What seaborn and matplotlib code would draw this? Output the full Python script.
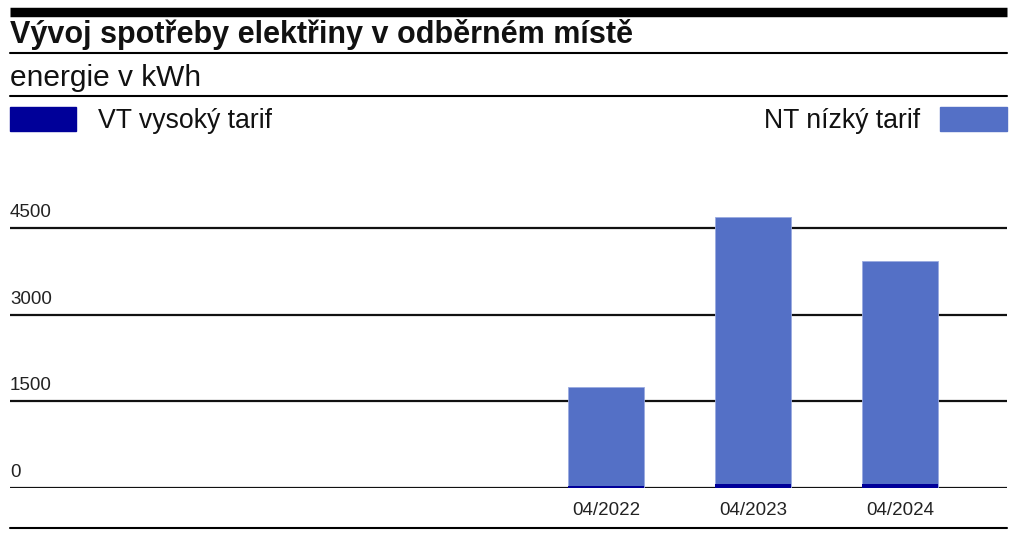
import pandas as pd
import seaborn as sns
import matplotlib.pyplot as plt

# data
periods = ["04/2022", "04/2023", "04/2024"]
vt_kwh = [30, 75, 70]          # VT vysoký tarif
nt_kwh = [1712, 4615, 3860]    # NT nízký tarif
y_ticks = [0, 1500, 3000, 4500]

VT_COLOR = "#000099"
NT_COLOR = "#5470c6"

sns.set_theme(style="white")
plt.rcParams["font.family"] = ["Liberation Sans", "DejaVu Sans"]

df = pd.DataFrame({"period": periods, "VT": vt_kwh, "NT": nt_kwh})
df["total"] = df["VT"] + df["NT"]

W, H = 1022, 542
fig = plt.figure(figsize=(W / 100, H / 100), dpi=100)


def fx(px):
    return px / W


def fy(py):
    return 1 - py / H


# header lines
x0, x1 = 10, 1007
fig.add_artist(plt.Line2D([fx(x0), fx(x1)], [fy(12), fy(12)], color="black", lw=6.8,
                          solid_capstyle="butt"))
for yy in (53, 96, 528):
    fig.add_artist(plt.Line2D([fx(x0), fx(x1)], [fy(yy), fy(yy)], color="black", lw=1.5))

fig.text(fx(10), fy(43), "Vývoj spotřeby elektřiny v odběrném místě", fontsize=22,
         fontweight="bold", ha="left", va="baseline", color="#111111")
fig.text(fx(10), fy(86), "energie v kWh", fontsize=21.5, ha="left", va="baseline",
         color="#111111")

# legend
fig.add_artist(plt.Rectangle((fx(10), fy(131)), fx(66), 24 / H, color=VT_COLOR))
fig.text(fx(98), fy(128), "VT vysoký tarif", fontsize=19.2, ha="left", va="baseline",
         color="#111111")
fig.add_artist(plt.Rectangle((fx(940), fy(131)), fx(67), 24 / H, color=NT_COLOR))
fig.text(fx(920), fy(128), "NT nízký tarif", fontsize=19.2, ha="right", va="baseline",
         color="#111111")

# plot area
px_per_unit = 260 / 4500
top_px = 150
ax = fig.add_axes([fx(x0), fy(488), fx(x1 - x0), (488 - top_px) / H])
ax.set_ylim(0, (488 - top_px) / px_per_unit)

sns.barplot(data=df, x="period", y="total", color=NT_COLOR, width=0.517,
            edgecolor="#9aaae0", linewidth=0.6, saturation=1, ax=ax, zorder=3)
sns.barplot(data=df, x="period", y="VT", color=VT_COLOR, width=0.517,
            linewidth=0, saturation=1, ax=ax, zorder=4)

ax.set_xlim(-4.061, 2.728)
for v in y_ticks:
    ax.axhline(v, color="#111111", lw=1.6, zorder=2)
    ax.text(0, v + 11 / px_per_unit, str(v), transform=ax.get_yaxis_transform(),
            fontsize=13.5, ha="left", va="baseline", color="#222222")

ax.set_yticks([])
ax.set_xlabel("")
ax.set_ylabel("")
ax.tick_params(axis="x", length=0, pad=10, labelsize=13.5, labelcolor="#222222")
sns.despine(ax=ax, left=True, bottom=True)

fig.savefig("out.png", dpi=100)
